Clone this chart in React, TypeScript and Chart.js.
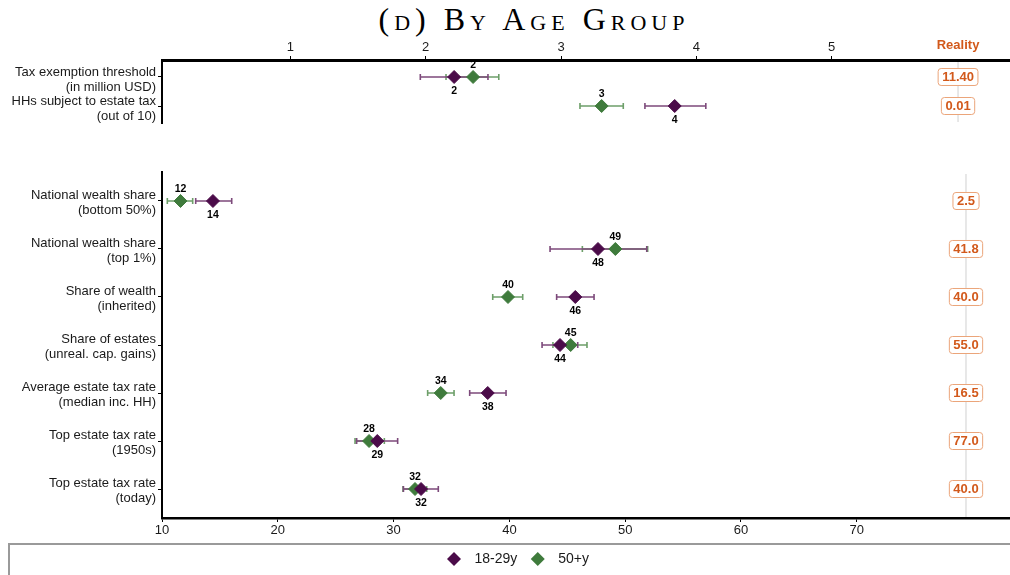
import React, { useEffect, useRef } from "react";
import { Chart, registerables } from "chart.js";

Chart.register(...registerables);

const SANS = "'Liberation Sans', Arial, sans-serif";

// ---------------- data ----------------
const SERIES_NAMES = ["18-29y", "50+y"];

const TOP_CATEGORIES = [
  ["Tax exemption threshold", "(in million USD)"],
  ["HHs subject to estate tax", "(out of 10)"],
];
const TOP_YOUNG = [2.21, 3.84];
const TOP_YOUNG_LOW = [1.96, 3.62];
const TOP_YOUNG_HIGH = [2.46, 4.07];
const TOP_OLD = [2.35, 3.3];
const TOP_OLD_LOW = [2.15, 3.14];
const TOP_OLD_HIGH = [2.54, 3.46];
const TOP_REALITY = ["11.40", "0.01"];
const TOP_TICKS = [1, 2, 3, 4, 5];

const BOTTOM_CATEGORIES = [
  ["National wealth share", "(bottom 50%)"],
  ["National wealth share", "(top 1%)"],
  ["Share of wealth", "(inherited)"],
  ["Share of estates", "(unreal. cap. gains)"],
  ["Average estate tax rate", "(median inc. HH)"],
  ["Top estate tax rate", "(1950s)"],
  ["Top estate tax rate", "(today)"],
];
const BOTTOM_YOUNG = [14.4, 47.65, 45.69, 44.37, 38.13, 28.59, 32.37];
const BOTTOM_YOUNG_LOW = [12.91, 43.51, 44.08, 42.82, 36.57, 26.81, 30.85];
const BOTTOM_YOUNG_HIGH = [16.02, 51.86, 47.31, 45.9, 39.71, 30.35, 33.86];
const BOTTOM_OLD = [11.6, 49.15, 39.88, 45.29, 34.07, 27.88, 31.85];
const BOTTOM_OLD_LOW = [10.46, 46.3, 38.56, 43.76, 32.94, 26.67, 30.81];
const BOTTOM_OLD_HIGH = [12.65, 51.94, 41.15, 46.7, 35.22, 29.2, 32.86];
const BOTTOM_REALITY = ["2.5", "41.8", "40.0", "55.0", "16.5", "77.0", "40.0"];
const BOTTOM_TICKS = [10, 20, 30, 40, 50, 60, 70];

// ---------------- styles ----------------
const PURPLE = "#4b0b49";
const PURPLE_BAR = "#7d4a7b";
const GREEN = "#3f7b3c";
const GREEN_BAR = "#6d9f69";
const ORANGE = "#d2591b";
const ORANGE_BORDER = "#eba57a";

type Series = {
  name: string;
  color: string;
  barColor: string;
  values: number[];
  low: number[];
  high: number[];
  labelOffset: number;
};

type Panel = {
  categories: string[][];
  series: Series[];
  reality: string[];
  realityAt: number;
  ticks: number[];
  xMin: number;
  xMax: number;
  yMin: number;
  yMax: number;
  xPosition: "top" | "bottom";
  axisHeight: number;
  axisWidth: number;
  padTop: number;
  padBottom: number;
  canvasTop: number;
  catOffset: number;
  header: boolean;
  legend: boolean;
};

function makeSeries(young: number[], yl: number[], yh: number[], old: number[], ol: number[], oh: number[]): Series[] {
  return [
    { name: SERIES_NAMES[0], color: PURPLE, barColor: PURPLE_BAR, values: young, low: yl, high: yh, labelOffset: 14 },
    { name: SERIES_NAMES[1], color: GREEN, barColor: GREEN_BAR, values: old, low: ol, high: oh, labelOffset: -12 },
  ];
}

const TOP_PANEL: Panel = {
  categories: TOP_CATEGORIES,
  series: makeSeries(TOP_YOUNG, TOP_YOUNG_LOW, TOP_YOUNG_HIGH, TOP_OLD, TOP_OLD_LOW, TOP_OLD_HIGH),
  reality: TOP_REALITY,
  realityAt: 5.934,
  ticks: TOP_TICKS,
  xMin: 0.051,
  xMax: 6.318,
  yMin: -0.586,
  yMax: 1.586,
  xPosition: "top",
  axisHeight: 20,
  axisWidth: 3,
  padTop: 40,
  padBottom: 7,
  canvasTop: 0,
  catOffset: 3,
  header: true,
  legend: false,
};

const BOTTOM_PANEL: Panel = {
  categories: BOTTOM_CATEGORIES,
  series: makeSeries(BOTTOM_YOUNG, BOTTOM_YOUNG_LOW, BOTTOM_YOUNG_HIGH, BOTTOM_OLD, BOTTOM_OLD_LOW, BOTTOM_OLD_HIGH),
  reality: BOTTOM_REALITY,
  realityAt: 79.43,
  ticks: BOTTOM_TICKS,
  xMin: 10,
  xMax: 83.23,
  yMin: -0.604,
  yMax: 6.604,
  xPosition: "bottom",
  axisHeight: 24,
  axisWidth: 2.5,
  padTop: 32,
  padBottom: 33,
  canvasTop: 140,
  catOffset: 1.5,
  header: false,
  legend: true,
};

function diamond(ctx: CanvasRenderingContext2D, x: number, y: number, r: number) {
  ctx.beginPath();
  ctx.moveTo(x - r, y);
  ctx.lineTo(x, y - r);
  ctx.lineTo(x + r, y);
  ctx.lineTo(x, y + r);
  ctx.closePath();
}

function makeOverlay(panel: Panel) {
  return {
    id: "overlay",
    beforeDatasetsDraw(chart: any) {
      const { ctx, chartArea } = chart;
      const xS = chart.scales.x;
      const yS = chart.scales.y;
      const rx = xS.getPixelForValue(panel.realityAt);
      ctx.save();
      ctx.strokeStyle = "#e0e0e0";
      ctx.lineWidth = 1.5;
      ctx.beginPath();
      ctx.moveTo(rx, chartArea.top + 2);
      ctx.lineTo(rx, chartArea.bottom - 1);
      ctx.stroke();
      for (let d = panel.series.length - 1; d >= 0; d--) {
        const s = panel.series[d];
        ctx.strokeStyle = s.barColor;
        ctx.lineWidth = 1.6;
        s.values.forEach((_, i) => {
          const y = yS.getPixelForValue(i);
          const x1 = xS.getPixelForValue(s.low[i]);
          const x2 = xS.getPixelForValue(s.high[i]);
          ctx.beginPath();
          ctx.moveTo(x1, y);
          ctx.lineTo(x2, y);
          ctx.moveTo(x1, y - 3);
          ctx.lineTo(x1, y + 3);
          ctx.moveTo(x2, y - 3);
          ctx.lineTo(x2, y + 3);
          ctx.stroke();
        });
      }
      ctx.restore();
    },
    afterDatasetsDraw(chart: any) {
      const { ctx } = chart;
      const xS = chart.scales.x;
      const yS = chart.scales.y;
      ctx.save();
      ctx.font = `bold 10.5px ${SANS}`;
      ctx.fillStyle = "#000";
      ctx.textAlign = "center";
      ctx.textBaseline = "middle";
      panel.series.forEach((s) => {
        s.values.forEach((v, i) => {
          ctx.fillText(String(Math.round(v)), xS.getPixelForValue(v), yS.getPixelForValue(i) + s.labelOffset);
        });
      });
      const rx = xS.getPixelForValue(panel.realityAt);
      ctx.font = `bold 13px ${SANS}`;
      panel.reality.forEach((t, i) => {
        const y = yS.getPixelForValue(i);
        const w = ctx.measureText(t).width + 8;
        const h = 17;
        ctx.beginPath();
        (ctx as any).roundRect(rx - w / 2, y - h / 2, w, h, 3);
        ctx.fillStyle = "#fff";
        ctx.fill();
        ctx.strokeStyle = ORANGE_BORDER;
        ctx.lineWidth = 1;
        ctx.stroke();
        ctx.fillStyle = ORANGE;
        ctx.fillText(t, rx, y + 0.5);
      });
      if (panel.header) {
        ctx.fillText("Reality", rx, 45 - panel.canvasTop);
      }
      ctx.restore();
    },
    afterDraw(chart: any) {
      if (!panel.legend) return;
      const { ctx } = chart;
      const top = chart.height - panel.padBottom;
      ctx.save();
      ctx.strokeStyle = "#9a9a9a";
      ctx.lineWidth = 2;
      ctx.strokeRect(9, top + 2, chart.width + 20, panel.padBottom + 20);
      ctx.font = `14px ${SANS}`;
      ctx.textBaseline = "middle";
      ctx.textAlign = "left";
      const r = 7;
      const gapText = 13.5;
      const gapItem = 13.5;
      const widths = panel.series.map((s) => ctx.measureText(s.name).width);
      let total = 0;
      panel.series.forEach((s, i) => {
        total += 2 * r + gapText + widths[i] + (i < panel.series.length - 1 ? gapItem : 0);
      });
      let x = 518 - total / 2;
      const cy = top + 17;
      panel.series.forEach((s, i) => {
        ctx.fillStyle = s.color;
        diamond(ctx, x + r, cy, r);
        ctx.fill();
        x += 2 * r + gapText;
        ctx.fillStyle = "#1a1a1a";
        ctx.fillText(s.name, x, cy + 0.5);
        x += widths[i] + gapItem;
      });
      ctx.restore();
    },
  };
}

function buildChart(canvas: HTMLCanvasElement, panel: Panel) {
  const datasets = panel.series.map((s) => ({
    label: s.name,
    data: s.values.map((v, i) => ({ x: v, y: i })),
    pointStyle: "rectRot",
    pointRadius: 6.5,
    pointHoverRadius: 6.5,
    pointBackgroundColor: s.color,
    pointBorderColor: s.color,
    pointBorderWidth: 1,
    showLine: false,
  }));
  return new Chart(canvas, {
    type: "scatter",
    data: { datasets } as any,
    plugins: [makeOverlay(panel)],
    options: {
      animation: false,
      responsive: false,
      devicePixelRatio: 1,
      layout: { autoPadding: false, padding: { top: panel.padTop, bottom: panel.padBottom, left: 0, right: 0 } },
      plugins: { legend: { display: false }, tooltip: { enabled: false }, title: { display: false } },
      scales: {
        x: {
          type: "linear",
          position: panel.xPosition,
          min: panel.xMin,
          max: panel.xMax,
          bounds: "data",
          afterBuildTicks: (s: any) => {
            s.ticks = panel.ticks.map((v) => ({ value: v }));
          },
          afterFit: (s: any) => {
            s.height = panel.axisHeight;
            s.paddingLeft = 0;
            s.paddingRight = 0;
          },
          ticks: {
            font: { family: SANS, size: 13 },
            color: "#1a1a1a",
            padding: 1,
            maxRotation: 0,
            autoSkip: false,
            callback: (v: any) => String(v),
          },
          grid: { drawOnChartArea: false, drawTicks: true, tickLength: 4, color: "#000" },
          border: { display: true, color: "#000", width: panel.axisWidth },
        },
        y: {
          type: "linear",
          reverse: true,
          min: panel.yMin,
          max: panel.yMax,
          bounds: "data",
          afterBuildTicks: (s: any) => {
            s.ticks = panel.categories.map((_, i) => ({ value: i }));
          },
          afterFit: (s: any) => {
            s.width = 162;
            s.paddingTop = 0;
            s.paddingBottom = 0;
          },
          ticks: {
            font: { family: SANS, size: 13, lineHeight: 1.15 },
            color: "#1a1a1a",
            padding: 2,
            labelOffset: panel.catOffset,
            autoSkip: false,
            callback: (v: any) => panel.categories[Math.round(v)],
          },
          grid: { drawOnChartArea: false, drawTicks: true, tickLength: 4, color: "#000" },
          border: { display: true, color: "#000", width: 2 },
        },
      },
    } as any,
  });
}

export default function App() {
  const topRef = useRef<HTMLCanvasElement>(null);
  const bottomRef = useRef<HTMLCanvasElement>(null);

  useEffect(() => {
    const c1 = buildChart(topRef.current!, TOP_PANEL);
    const c2 = buildChart(bottomRef.current!, BOTTOM_PANEL);
    return () => {
      c1.destroy();
      c2.destroy();
    };
  }, []);

  return (
    <div style={{ position: "fixed", left: 0, top: 0, width: 1010, height: 575, background: "#fff", overflow: "hidden" }}>
      <div
        style={{
          position: "absolute",
          left: 0,
          top: 0,
          width: 1068,
          textAlign: "center",
          fontFamily: "'Liberation Serif', 'DejaVu Serif', serif",
          fontVariant: "small-caps",
          fontSize: 32,
          letterSpacing: "5px",
          color: "#000",
          lineHeight: "38px",
        }}
      >
        (d) By Age Group
      </div>
      <canvas ref={topRef} width={1010} height={130} style={{ position: "absolute", left: 0, top: TOP_PANEL.canvasTop }} />
      <canvas ref={bottomRef} width={1010} height={435} style={{ position: "absolute", left: 0, top: BOTTOM_PANEL.canvasTop }} />
    </div>
  );
}
